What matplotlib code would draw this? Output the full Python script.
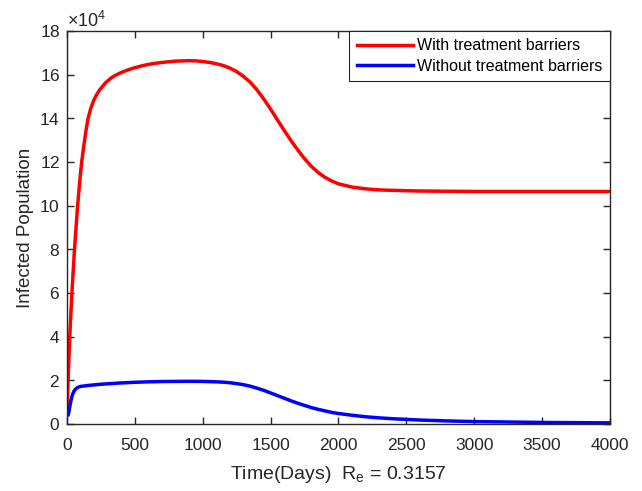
import matplotlib
matplotlib.use("Agg")
import matplotlib.pyplot as plt
from matplotlib.ticker import ScalarFormatter

plt.rcParams["font.family"] = ["Liberation Sans", "DejaVu Sans"]
plt.rcParams["mathtext.fontset"] = "custom"
plt.rcParams["mathtext.rm"] = "Liberation Sans"
plt.rcParams["mathtext.it"] = "Liberation Sans"

# Infected population over time (in units of 10^4 persons)
t_with = [0, 8, 20, 36, 55, 78, 95, 108, 125, 140, 155, 175, 195, 215, 240, 260,
          280, 300, 330, 354, 400, 450, 500, 550, 600, 650, 700, 750, 800, 850,
          900, 950, 1000, 1050, 1100, 1150, 1200, 1250, 1300, 1350, 1400, 1450,
          1500, 1550, 1600, 1650, 1700, 1750, 1800, 1850, 1900, 1950, 2000, 2100,
          2200, 2300, 2400, 2600, 3000, 3500, 4000]
i_with = [0.45, 2.0, 4.0, 6.0, 8.0, 10.0, 11.2, 12.0, 12.8, 13.45, 14.0, 14.45,
          14.8, 15.05, 15.3, 15.45, 15.6, 15.72, 15.87, 15.96, 16.1, 16.22, 16.32,
          16.4, 16.47, 16.52, 16.56, 16.59, 16.62, 16.63, 16.64, 16.63, 16.6,
          16.56, 16.5, 16.42, 16.3, 16.14, 15.92, 15.65, 15.3, 14.88, 14.42,
          13.93, 13.45, 12.98, 12.55, 12.15, 11.8, 11.52, 11.3, 11.13, 11.0,
          10.85, 10.77, 10.72, 10.7, 10.67, 10.65, 10.65, 10.65]

t_without = [0, 8, 15, 25, 35, 45, 55, 70, 85, 100, 125, 150, 200, 250, 325, 400,
             500, 600, 700, 800, 900, 1000, 1100, 1150, 1200, 1250, 1300, 1350,
             1400, 1450, 1500, 1550, 1600, 1650, 1700, 1750, 1800, 1850, 1900,
             1950, 2000, 2100, 2200, 2300, 2400, 2500, 2600, 2800, 3000, 3250,
             3500, 3750, 4000]
i_without = [0.5, 0.4, 0.6, 0.95, 1.25, 1.42, 1.54, 1.64, 1.69, 1.72, 1.74, 1.76,
             1.79, 1.82, 1.85, 1.88, 1.91, 1.93, 1.945, 1.95, 1.955, 1.95, 1.93,
             1.915, 1.89, 1.85, 1.8, 1.73, 1.64, 1.54, 1.42, 1.3, 1.18, 1.06, 0.95,
             0.85, 0.75, 0.67, 0.6, 0.53, 0.48, 0.4, 0.33, 0.28, 0.24, 0.21, 0.18,
             0.14, 0.11, 0.09, 0.07, 0.06, 0.05]

scale = 1e4
i_with = [v * scale for v in i_with]
i_without = [v * scale for v in i_without]

fig = plt.figure(figsize=(6.42, 4.91), dpi=100)
ax = fig.add_axes([0.1044, 0.1365, 0.8456, 0.8004])

ax.plot(t_with, i_with, color="#ff0000", lw=2.5, label="With treatment barriers")
ax.plot(t_without, i_without, color="#0000ff", lw=2.5, label="Without treatment barriers")

ax.set_xlim(0, 4000)
ax.set_ylim(0, 18e4)
ax.set_xticks(range(0, 4001, 500))
ax.set_yticks([v * scale for v in range(0, 19, 2)])

fmt = ScalarFormatter(useMathText=True)
fmt.set_powerlimits((4, 4))
ax.yaxis.set_major_formatter(fmt)
ax.yaxis.get_offset_text().set_fontsize(13)
ax.yaxis.get_offset_text().set_color("#262626")

ax.tick_params(direction="in", top=True, right=True, length=5, width=1,
               labelsize=12.5, colors="#262626", pad=5)
ax.tick_params(axis="x", pad=10)
for s in ax.spines.values():
    s.set_color("#262626")
    s.set_linewidth(1)

ax.set_xlabel("Time(Days)  R$_{e}$ = 0.3157", fontsize=14, color="#262626",
              labelpad=8)
ax.set_ylabel("Infected Population", fontsize=13.5, color="#262626")

leg = ax.legend(loc="upper right", fontsize=11.5, fancybox=False, framealpha=1,
                edgecolor="#262626", borderaxespad=0, handlelength=3.5,
                handletextpad=0.3, borderpad=0.45, labelspacing=0.35)
leg.get_frame().set_linewidth(0.8)

fig.savefig("out.png", dpi=100)
